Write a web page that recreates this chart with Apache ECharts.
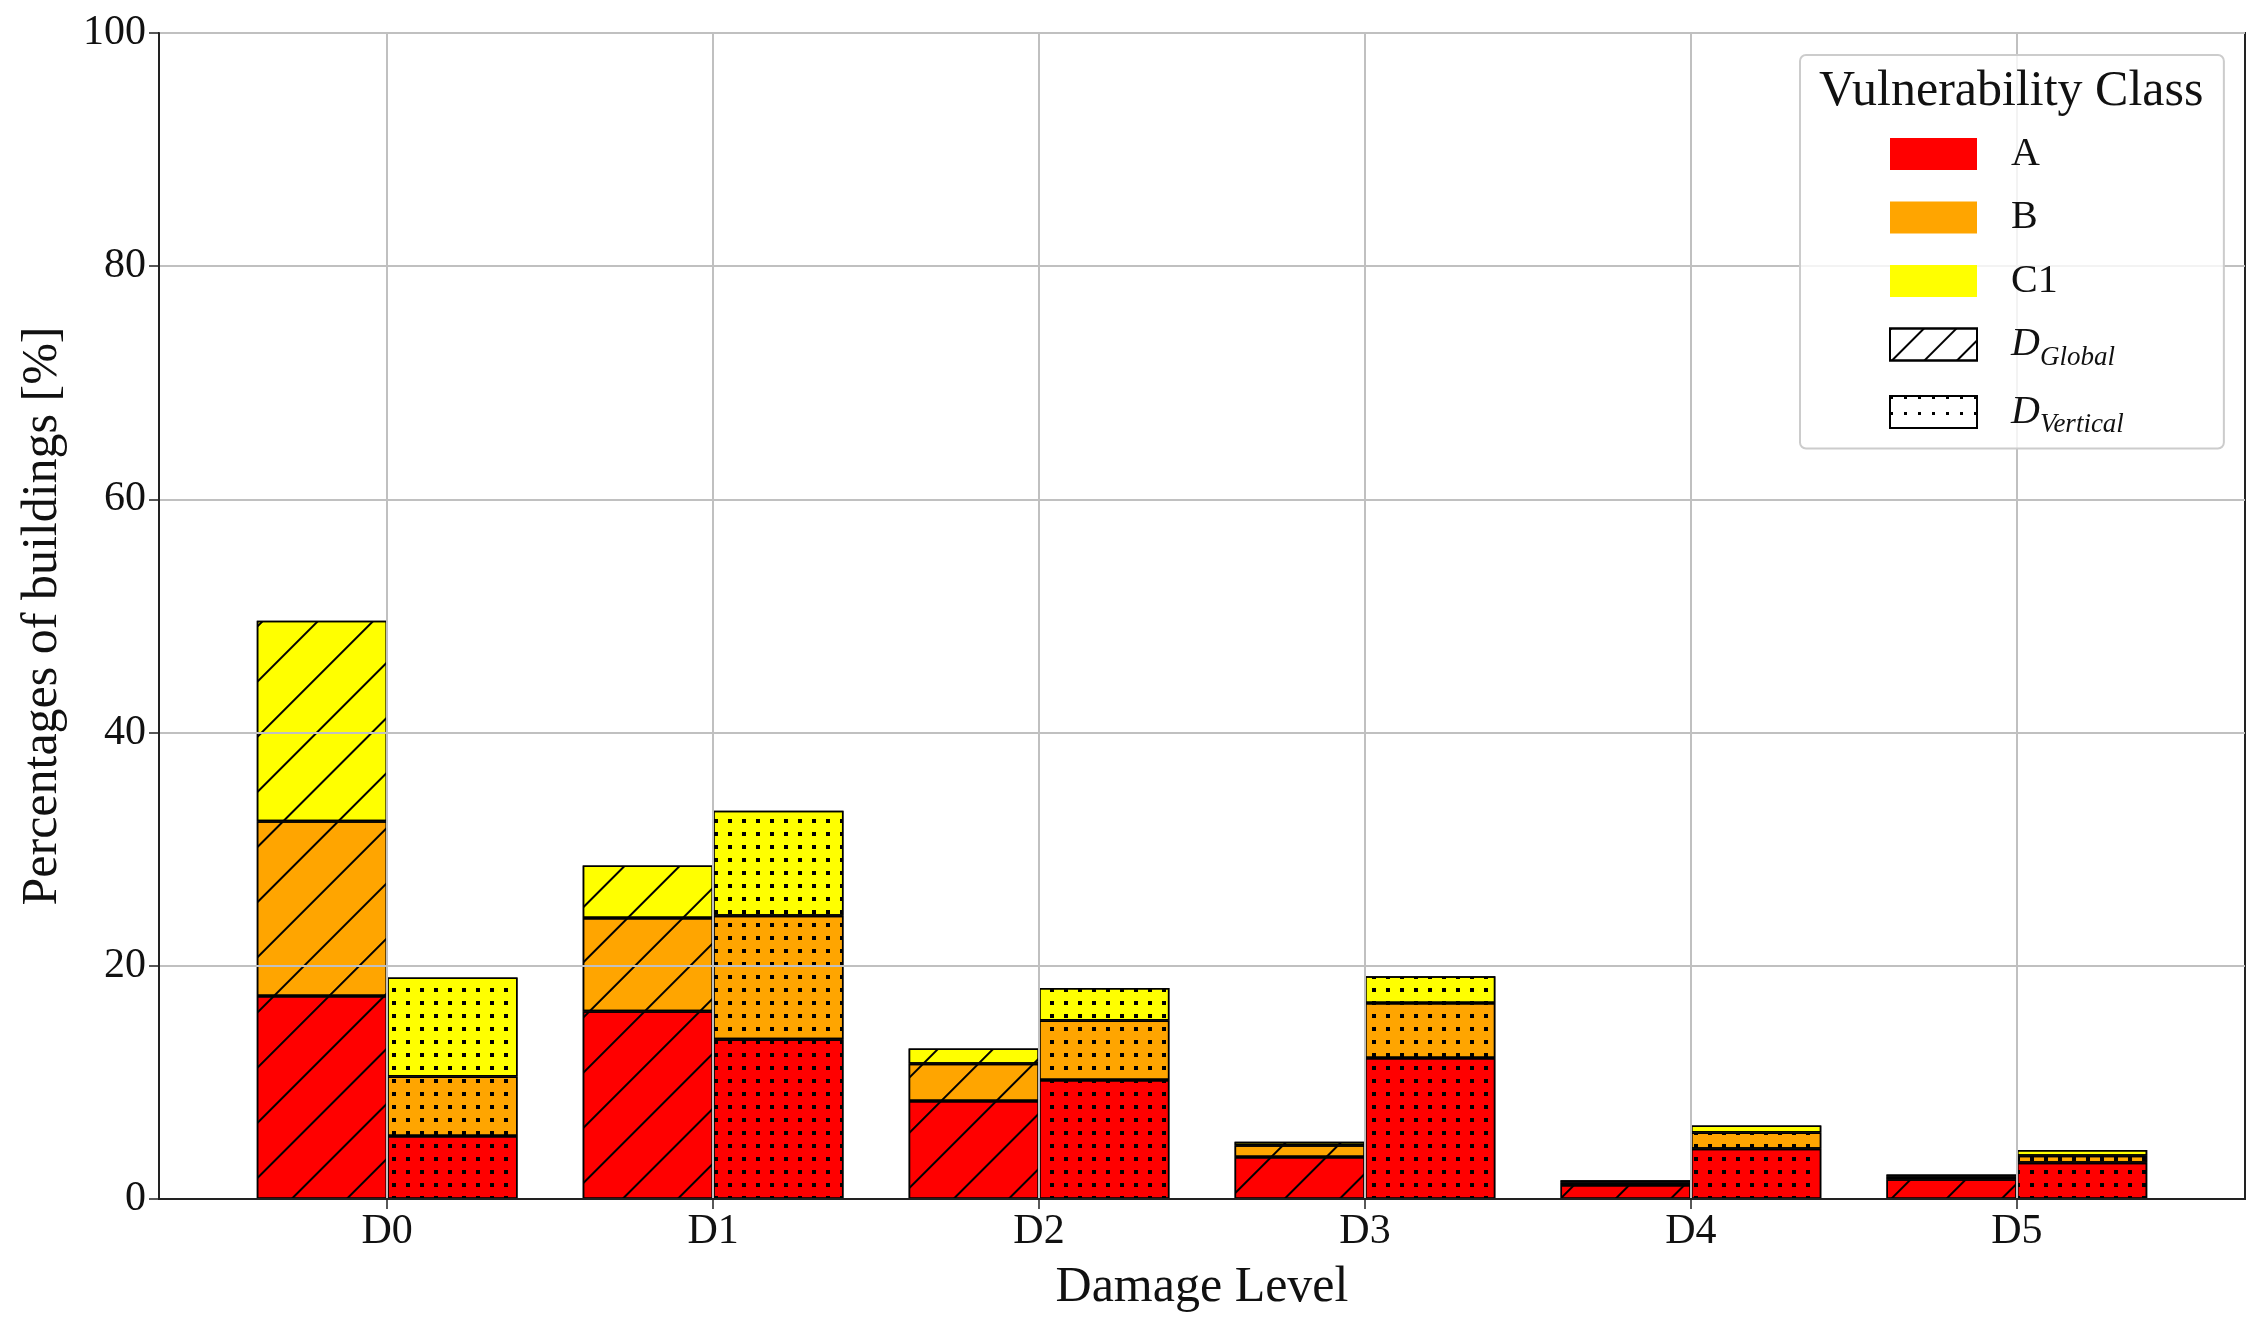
<!DOCTYPE html>
<html>
<head>
    <meta charset="UTF-8">
    <title>Damage level distribution</title>
    <script src="https://cdn.jsdelivr.net/npm/echarts@6.0.0/dist/echarts.min.js"></script>
    <style>
        html, body { margin: 0; padding: 0; background: #fff; }
        #chart { width: 2263px; height: 1329px; }
    </style>
</head>
<body>
    <div id="chart"></div>
    <script>
        // damage levels on the x axis
        var levels = ['D0', 'D1', 'D2', 'D3', 'D4', 'D5'];

        // share of buildings [%] per vulnerability class, D_Global (hatched bars)
        var globalA = [17.4, 16.1, 8.4, 3.6, 1.2, 1.7];
        var globalB = [15.0, 8.0, 3.2, 1.0, 0.2, 0.2];
        var globalC1 = [17.2, 4.5, 1.3, 0.3, 0.2, 0.2];

        // D_Vertical (dotted bars)
        var verticalA = [5.4, 13.7, 10.2, 12.1, 4.3, 3.1];
        var verticalB = [5.1, 10.6, 5.1, 4.7, 1.4, 0.6];
        var verticalC1 = [8.5, 9.0, 2.8, 2.3, 0.6, 0.5];

        var yTicks = [0, 20, 40, 60, 80, 100];

        var FONT = 'Liberation Serif';
        var TXT = '#111';
        var colors = { A: '#ff0000', B: '#ffa500', C1: '#ffff00' };

        var hatch = {
            symbol: 'rect', symbolSize: 1, color: '#000',
            dashArrayX: [1, 0], dashArrayY: [2, 37], rotation: -Math.PI / 4
        };
        var dots = {
            symbol: 'rect', symbolSize: 1, color: '#000',
            dashArrayX: [4, 10], dashArrayY: [4, 9], rotation: 0
        };
        // the legend swatches use a finer hatch, as in the original
        var hatchSmall = {
            symbol: 'rect', symbolSize: 1, color: '#000',
            dashArrayX: [1, 0], dashArrayY: [2, 21], rotation: -Math.PI / 4
        };
        var dotsSmall = {
            symbol: 'rect', symbolSize: 1, color: '#000',
            dashArrayX: [3, 11], dashArrayY: [3, 13], rotation: 0
        };

        var chart = echarts.init(document.getElementById('chart'));

        // frame of the plot; matplotlib leaves 0.7 of a category on each side,
        // ECharts' category axis 0.5, so the bar grid is pulled in by 0.2
        var frameL = 159, frameR = 18, frameT = 33, frameB = 130;
        var unit = (chart.getWidth() - frameL - frameR) / (levels.length + 0.4);
        var tickPos = levels.map(function (d, i) { return i; });

        function bars(name, stack, color, decal, values) {
            return {
                name: name,
                type: 'bar',
                xAxisIndex: 0,
                yAxisIndex: 0,
                stack: stack,
                barWidth: '40%',
                barGap: '0%',
                data: values,
                itemStyle: { color: color, borderColor: '#000', borderWidth: 1.5, decal: decal },
                emphasis: { disabled: true }
            };
        }

        function legendOnly(name, stack, style) {
            return {
                name: name, type: 'bar', stack: stack, barGap: '0%',
                xAxisIndex: 0, yAxisIndex: 0, data: [], itemStyle: style
            };
        }

        var option = {
            animation: false,
            backgroundColor: '#fff',
            textStyle: { fontFamily: FONT, color: TXT },
            title: {
                text: 'Vulnerability Class',
                left: 1819, top: 67, padding: 0, z: 10,
                textStyle: { fontFamily: FONT, fontSize: 50, fontWeight: 'normal', color: TXT }
            },
            legend: {
                orient: 'vertical',
                left: 1800, top: 55,
                padding: [76.5, 100, 10, 89],
                backgroundColor: 'rgba(255,255,255,0.8)',
                borderColor: '#cccccc', borderWidth: 2, borderRadius: 6,
                icon: 'rect',
                itemWidth: 87, itemHeight: 32, itemGap: 18.5,
                selectedMode: false,
                data: ['A', 'B', 'C1', 'D_Global', 'D_Vertical'],
                formatter: function (name) {
                    if (name === 'D_Global') return '{i|D}{s|Global}';
                    if (name === 'D_Vertical') return '{i|D}{s|Vertical}';
                    return name;
                },
                textStyle: {
                    fontFamily: FONT, fontSize: 40, color: TXT, lineHeight: 45,
                    padding: [0, 0, 0, 29],
                    rich: {
                        i: { fontFamily: FONT, fontSize: 40, fontStyle: 'italic', color: TXT,
                             height: 32, lineHeight: 45, padding: [6.5, 0, 6.5, 0], verticalAlign: 'top' },
                        s: { fontFamily: FONT, fontSize: 27, fontStyle: 'italic', color: TXT,
                             height: 19, lineHeight: 45, padding: [26, 0, 0, 0], verticalAlign: 'top' }
                    }
                }
            },
            grid: [
                { left: frameL + 0.2 * unit, right: frameR + 0.2 * unit, top: frameT, bottom: frameB },
                { left: frameL, right: frameR, top: frameT, bottom: frameB,
                  show: true, borderColor: '#222', borderWidth: 2, backgroundColor: 'transparent' }
            ],
            xAxis: [
                { type: 'category', gridIndex: 0, data: levels, show: false },
                {
                    type: 'value', gridIndex: 1, min: -0.7, max: levels.length - 0.3, z: 3,
                    name: 'Damage Level', nameLocation: 'middle', nameGap: 64,
                    nameTextStyle: { fontFamily: FONT, fontSize: 50, color: TXT },
                    axisLine: { show: true, onZero: false, lineStyle: { color: '#222', width: 2 } },
                    axisTick: { show: true, customValues: tickPos, length: 10, lineStyle: { color: '#222', width: 1.5 } },
                    axisLabel: {
                        customValues: tickPos, margin: 12, fontFamily: FONT, fontSize: 42, color: TXT,
                        formatter: function (v) { return levels[Math.round(v)]; }
                    },
                    splitLine: { show: true, lineStyle: { color: '#c0c0c0', width: 2 } }
                }
            ],
            yAxis: [
                { type: 'value', gridIndex: 0, min: 0, max: 100, show: false },
                {
                    type: 'value', gridIndex: 1, min: yTicks[0], max: yTicks[yTicks.length - 1], interval: 20, z: 3,
                    name: 'Percentages of buildings [%]', nameLocation: 'middle', nameGap: 91,
                    nameTextStyle: { fontFamily: FONT, fontSize: 50, color: TXT },
                    axisLine: { show: true, onZero: false, lineStyle: { color: '#222', width: 2 } },
                    axisTick: { show: true, length: 10, lineStyle: { color: '#222', width: 1.5 } },
                    axisLabel: { margin: 13, fontFamily: FONT, fontSize: 42, color: TXT },
                    splitLine: { show: true, lineStyle: { color: '#c0c0c0', width: 2 } }
                }
            ],
            series: [
                bars('A (Global)', 'g', colors.A, hatch, globalA),
                bars('B (Global)', 'g', colors.B, hatch, globalB),
                bars('C1 (Global)', 'g', colors.C1, hatch, globalC1),
                bars('A (Vertical)', 'v', colors.A, dots, verticalA),
                bars('B (Vertical)', 'v', colors.B, dots, verticalB),
                bars('C1 (Vertical)', 'v', colors.C1, dots, verticalC1),
                legendOnly('A', 'g', { color: colors.A }),
                legendOnly('B', 'g', { color: colors.B }),
                legendOnly('C1', 'g', { color: colors.C1 }),
                legendOnly('D_Global', 'g', { color: '#fff', borderColor: '#000', borderWidth: 1.5, decal: hatchSmall }),
                legendOnly('D_Vertical', 'g', { color: '#fff', borderColor: '#000', borderWidth: 1.5, decal: dotsSmall })
            ]
        };

        chart.setOption(option);
    </script>
</body>
</html>
